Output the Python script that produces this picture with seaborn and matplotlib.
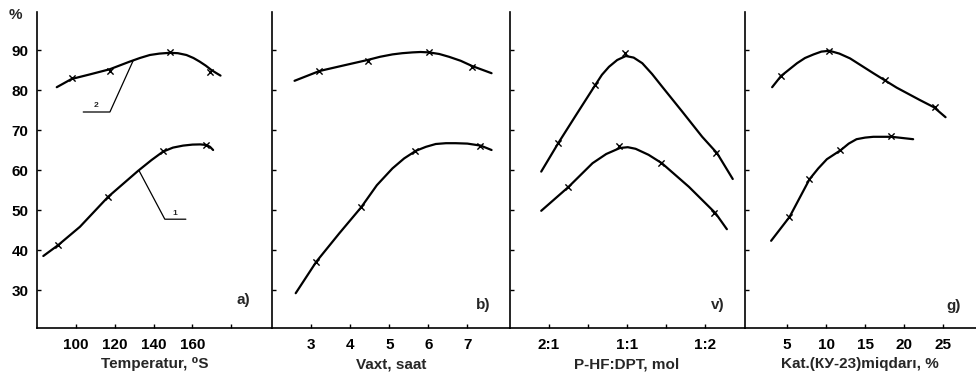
import matplotlib
matplotlib.use('Agg')
import matplotlib.pyplot as plt
import seaborn as sns

a_top_x = [90.3, 97.9, 107.3, 117.6, 127.8, 133.0, 138.1, 143.0, 148.4, 152.5, 156.9, 160.5, 163.7, 166.8, 169.7, 172.0, 174.4]
a_top_y = [80.7, 82.75, 83.9, 85.2, 87.1, 88.0, 88.75, 89.1, 89.3, 89.2, 88.75, 88.0, 87.1, 86.1, 85.0, 84.3, 83.6]
a_top_px = [98.0, 117.6, 148.4, 169.0]
a_top_py = [82.9, 84.8, 89.6, 84.4]
a_bot_x = [83.4, 91.1, 102.2, 116.7, 132.1, 139.0, 144.9, 150.0, 155.2, 160.0, 164.0, 167.2, 169.0, 170.6]
a_bot_y = [38.5, 41.25, 45.8, 53.3, 59.8, 62.5, 64.6, 65.6, 66.1, 66.35, 66.4, 66.25, 65.8, 65.0]
a_bot_px = [91.1, 116.7, 145.0, 167.2]
a_bot_py = [41.25, 53.3, 64.8, 66.3]

b_top_x = [2.57, 3.21, 3.81, 4.44, 4.76, 5.08, 5.33, 5.59, 5.8, 6.02, 6.28, 6.53, 6.83, 7.12, 7.37, 7.62]
b_top_y = [82.3, 84.75, 86.1, 87.5, 88.3, 88.9, 89.2, 89.4, 89.5, 89.4, 89.0, 88.3, 87.3, 86.0, 85.1, 84.2]
b_top_px = [3.2, 4.45, 6.02, 7.13]
b_top_py = [84.8, 87.3, 89.6, 85.8]
b_bot_x = [2.6, 3.13, 3.72, 4.28, 4.68, 5.08, 5.38, 5.68, 5.94, 6.19, 6.45, 6.7, 7.0, 7.34, 7.62]
b_bot_y = [29.2, 37.1, 44.2, 50.7, 56.2, 60.4, 62.9, 64.8, 65.8, 66.5, 66.7, 66.7, 66.6, 66.1, 65.0]
b_bot_px = [3.13, 4.28, 5.67, 7.32]
b_bot_py = [37.1, 50.7, 64.8, 66.1]

c_top_x = [0.81, 1.25, 1.70, 2.19, 2.36, 2.54, 2.75, 2.97, 3.17, 3.39, 3.64, 3.9, 4.41, 4.92, 5.3, 5.7]
c_top_y = [59.6, 66.8, 73.75, 81.25, 83.8, 85.8, 87.5, 88.5, 88.1, 86.7, 84.0, 80.8, 74.6, 68.3, 64.2, 57.75]
c_top_px = [1.24, 2.18, 2.95, 5.28]
c_top_py = [66.8, 81.25, 89.2, 64.2]
c_bot_x = [0.81, 1.51, 2.12, 2.47, 2.82, 3.02, 3.22, 3.55, 3.89, 4.58, 5.26, 5.55]
c_bot_y = [49.8, 55.8, 61.7, 64.0, 65.5, 65.7, 65.3, 63.8, 61.7, 55.8, 49.2, 45.2]
c_bot_px = [1.49, 2.8, 3.86, 5.22]
c_bot_py = [55.8, 66.0, 61.7, 49.2]

d_top_x = [3.09, 4.23, 6.28, 7.3, 8.4, 9.4, 10.43, 11.7, 13.07, 16.05, 19.03, 22.0, 23.8, 25.3]
d_top_y = [80.7, 83.5, 86.7, 88.0, 88.9, 89.6, 89.8, 89.1, 87.9, 84.2, 80.6, 77.5, 75.7, 73.2]
d_top_px = [4.2, 10.4, 17.5, 23.9]
d_top_py = [83.5, 89.8, 82.5, 75.7]
d_bot_x = [2.96, 5.33, 7.88, 9.0, 10.1, 11.9, 12.9, 13.9, 15.0, 16.05, 18.4, 21.15]
d_bot_y = [42.3, 48.3, 57.7, 60.4, 62.7, 65.0, 66.6, 67.7, 68.1, 68.3, 68.3, 67.7]
d_bot_px = [5.3, 7.8, 11.8, 18.3]
d_bot_py = [48.3, 57.7, 65.0, 68.5]

# leader lines for curve numbers in panel a
lead2_x = [129.5, 117.6, 103.9]
lead2_y = [87.3, 74.5, 74.5]
lead1_x = [132.6, 145.8, 156.6]
lead1_y = [59.8, 47.7, 47.7]

xlabels = ["Temperatur, \u2070S", "Vaxt, saat", "P-HF:DPT, mol", "Kat.(\u041a\u0423-23)miqdar\u0131, %"]
panel_tags = ["a)", "b)", "v)", "g)"]
xticks = [[100, 120, 140, 160, 180], [3, 4, 5, 6, 7], [1, 2, 3, 4, 5], [5, 10, 15, 20, 25]]
xticklabels = [["100", "120", "140", "160", ""], ["3", "4", "5", "6", "7"],
               ["2:1", "", "1:1", "", "1:2"], ["5", "10", "15", "20", "25"]]
xlims = [(80, 201), (2.0, 8.08), (0.0, 6.0), (-0.45, 29.2)]
yticks = [30, 40, 50, 60, 70, 80, 90]

sns.set_theme(style="ticks")
plt.rcParams['font.family'] = ['Liberation Sans', 'DejaVu Sans']
plt.rcParams['font.weight'] = 'bold'
plt.rcParams['axes.labelweight'] = 'bold'

W, H = 976, 383
fig = plt.figure(figsize=(W / 100, H / 100), dpi=100)

# panel edges in pixels
edges = [(36.7, 272.3), (272.3, 509.5), (509.5, 744.5), (744.5, 976)]
tag_pos = [(0.877, 0.089), (0.89, 0.073), (0.887, 0.073), (0.905, 0.07)]
bottom, top = 328, 12

curves = [
    (a_top_x, a_top_y, a_top_px, a_top_py, a_bot_x, a_bot_y, a_bot_px, a_bot_py),
    (b_top_x, b_top_y, b_top_px, b_top_py, b_bot_x, b_bot_y, b_bot_px, b_bot_py),
    (c_top_x, c_top_y, c_top_px, c_top_py, c_bot_x, c_bot_y, c_bot_px, c_bot_py),
    (d_top_x, d_top_y, d_top_px, d_top_py, d_bot_x, d_bot_y, d_bot_px, d_bot_py),
]

for i, (l, r) in enumerate(edges):
    ax = fig.add_axes([l / W, (H - bottom) / H, (r - l) / W, (bottom - top) / H])
    tx, ty, tpx, tpy, bx, by, bpx, bpy = curves[i]
    for cx, cy, px, py in [(tx, ty, tpx, tpy), (bx, by, bpx, bpy)]:
        sns.lineplot(x=cx, y=cy, ax=ax, color='black', linewidth=1.6, sort=False)
        sns.scatterplot(x=px, y=py, ax=ax, marker='x', color='black', s=20, linewidth=1.0)
    ax.set_xlim(*xlims[i])
    ax.set_ylim(20.5, 99.5)
    ax.set_xticks(xticks[i])
    ax.set_xticklabels(xticklabels[i])
    ax.set_yticks(yticks)
    if i == 0:
        ax.set_yticklabels([str(v) for v in yticks])
    else:
        ax.set_yticklabels([])
    ax.tick_params(direction='in', length=3, width=1, labelsize=11, colors='black')
    ax.tick_params(axis='x', pad=7)
    ax.tick_params(axis='y', pad=6)
    for lab in ax.get_xticklabels() + ax.get_yticklabels():
        lab.set_fontweight('bold')
    ax.set_xlabel(xlabels[i], fontsize=11, fontweight='bold', labelpad=4)
    ax.set_ylabel('')
    for s in ['top', 'right']:
        ax.spines[s].set_visible(False)
    for s in ['left', 'bottom']:
        ax.spines[s].set_linewidth(1.2)
        ax.spines[s].set_color('black')
    ax.text(tag_pos[i][0], tag_pos[i][1], panel_tags[i], transform=ax.transAxes,
            ha='center', va='center', fontsize=11, fontweight='bold')
    if i == 0:
        ax.plot(lead2_x, lead2_y, color='black', linewidth=0.9)
        ax.plot(lead1_x, lead1_y, color='black', linewidth=0.9)
        ax.text(110.4, 75.3, "2", fontsize=6, fontweight='bold', ha='center', va='bottom')
        ax.text(151.0, 48.3, "1", fontsize=6, fontweight='bold', ha='center', va='bottom')

fig.text(15 / W, 1 - 15 / H, "%", fontsize=11, fontweight='bold', ha='center', va='center')

fig.savefig("out.png", dpi=100)
